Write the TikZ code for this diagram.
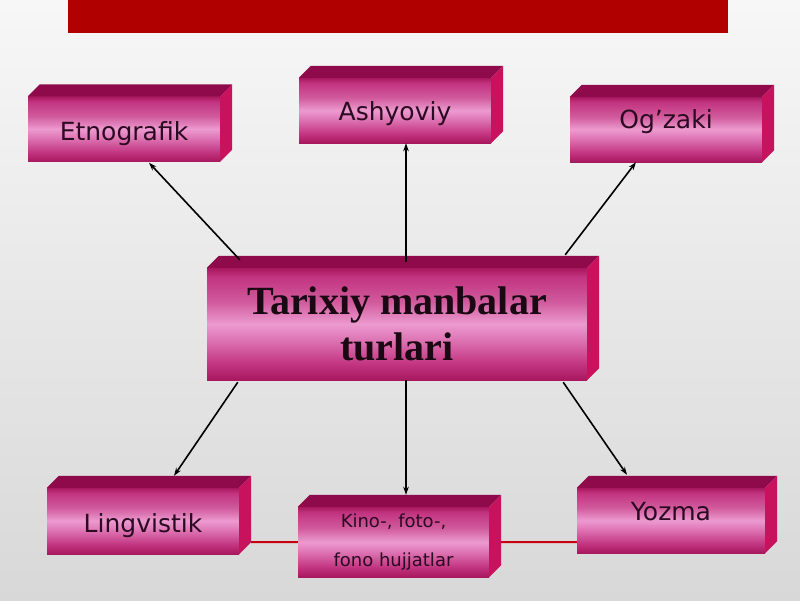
\documentclass[tikz,border=0pt]{standalone}
\usepackage{fontspec}
\setmainfont{DejaVu Sans}
\newfontfamily\titlefont{Liberation Serif}
\usetikzlibrary{arrows.meta}

\definecolor{bgtop}{HTML}{F7F7F7}
\definecolor{bgmid}{HTML}{EBEBEB}
\definecolor{bgbot}{HTML}{D8D8D8}
\definecolor{barred}{HTML}{B00000}
\definecolor{linkred}{HTML}{C80010}
\definecolor{faceD}{HTML}{A8185E}
\definecolor{faceC}{HTML}{C23480}
\definecolor{faceB}{HTML}{D05A9C}
\definecolor{faceL}{HTML}{EC9ACF}
\definecolor{faceM}{HTML}{E07AB8}
\definecolor{topface}{HTML}{8E0A4A}
\definecolor{sideface}{HTML}{C8125E}
\definecolor{textplum}{HTML}{2B0A22}
\definecolor{titleink}{HTML}{1A0812}

\pgfdeclareverticalshading{frontshade}{100bp}{color(0bp)=(faceD); color(25bp)=(faceD);
  color(32bp)=(faceC); color(44bp)=(faceM); color(50bp)=(faceL); color(60bp)=(faceB);
  color(71bp)=(faceC); color(75bp)=(faceD); color(100bp)=(faceD)}

% top and right faces of a box
\newcommand{\boxsides}[1]{%
  \fill[topface] (#1.north west) -- ++(12,-12) -- ([shift={(12,-12)}]#1.north east)
    -- (#1.north east) -- cycle;
  \fill[sideface] (#1.north east) -- ++(12,-12) -- ([shift={(12,-12)}]#1.south east)
    -- (#1.south east) -- cycle;}
% baseline of a box text, measured from the box middle
\newcommand{\onbase}[2]{\raisebox{#1}[0pt][0pt]{#2}}

\begin{document}
\begin{tikzpicture}[x=1pt, y=-1pt,
    srcbox/.style={shading=frontshade, minimum width=192, minimum height=65,
      inner sep=0pt, text=textplum, font=\fontsize{25}{28}\selectfont},
    srcarrow/.style={-{Stealth[length=8pt,width=5.5pt]}, line width=1.6pt, black},
    linkline/.style={linkred, line width=2pt}]
    \useasboundingbox (0,0) rectangle (800,600);
    \shade[top color=bgtop, middle color=bgmid, bottom color=bgbot] (0,0) rectangle (800,600);
    \fill[barred] (68,0) rectangle (728,33);

    \node[srcbox] (etno) at (124,129) {\onbase{-11pt}{Etnografik}};
    \node[srcbox] (ashy) at (395,110.5) {\onbase{-10pt}{Ashyoviy}};
    \node[srcbox] (ogz)  at (666,129.5) {\onbase{1pt}{Og’zaki}};
    \node[srcbox, minimum width=380, minimum height=112, align=center, text=titleink,
      font=\titlefont\bfseries\fontsize{40}{46}\selectfont] (main) at (397,324)
      {Tarixiy manbalar\\turlari};
    \node[srcbox, minimum height=66] (ling) at (143,521) {\onbase{-11pt}{Lingvistik}};
    \node[srcbox, minimum width=191, minimum height=70, align=center,
      font=\fontsize{18}{39}\selectfont] (kino) at (393.5,542)
      {Kino-, foto-,\\fono hujjatlar};
    \node[srcbox, minimum width=188] (yoz) at (671,520.5) {\onbase{0pt}{Yozma}};

    \boxsides{etno}
    \boxsides{ashy}
    \boxsides{ogz}
    \boxsides{main}
    \boxsides{ling}
    \boxsides{kino}
    \boxsides{yoz}

    \draw[linkline] ([shift={(12,-12)}]ling.south east) -- (kino.west);
    \draw[linkline] ([shift={(12,0)}]kino.east) -- ([shift={(0,-11)}]yoz.south west);

    \draw[srcarrow] ([shift={(33,-8)}]main.north west) -- ([shift={(25,1)}]etno.south);
    \draw[srcarrow] ([shift={(9,-6)}]main.north) -- ([shift={(11,0)}]ashy.south);
    \draw[srcarrow] ([shift={(-22,-13)}]main.north east) -- ([shift={(-30,0)}]ogz.south);
    \draw[srcarrow] ([shift={(31,2)}]main.south west) -- ([shift={(31,-12)}]ling.north);
    \draw[srcarrow] ([shift={(9,0)}]main.south) -- ([shift={(12.5,-12)}]kino.north);
    \draw[srcarrow] ([shift={(-24,2)}]main.south east) -- ([shift={(-44,-13)}]yoz.north);
\end{tikzpicture}
\end{document}
